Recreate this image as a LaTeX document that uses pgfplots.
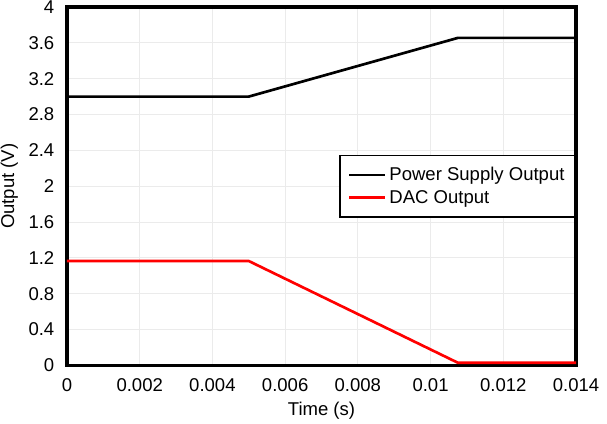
\documentclass[border=0pt]{standalone}
\usepackage{fontspec}
\setmainfont{Liberation Sans}
\usepackage{pgfplots}
\pgfplotsset{compat=1.18}

\begin{document}
\begin{tikzpicture}[x=1pt,y=1pt]
\begin{axis}[
    scale only axis,
    width=382pt,
    height=269pt,
    xmin=0, xmax=0.014,
    ymin=0, ymax=4,
    xtick={0,0.002,0.004,0.006,0.008,0.01,0.012,0.014},
    xticklabels={0,0.002,0.004,0.006,0.008,0.01,0.012,0.014},
    ytick={0,0.4,0.8,1.2,1.6,2,2.4,2.8,3.2,3.6,4},
    yticklabels={0,0.4,0.8,1.2,1.6,2,2.4,2.8,3.2,3.6,4},
    scaled x ticks=false,
    major tick length=0pt,
    grid=major,
    major grid style={draw=black!8, line width=0.6pt},
    axis line style={line width=2.5pt},
    tick label style={font=\fontsize{13.9}{16}\selectfont},
    label style={font=\fontsize{13.9}{16}\selectfont},
    xticklabel style={yshift=-6pt},
    yticklabel style={xshift=-6pt},
    xlabel={Time (s)},
    ylabel={Output (V)},
    xlabel style={yshift=-1pt},
    ylabel style={yshift=1pt},
    legend style={
        at={(1,0.5)}, anchor=east,
        draw=black, line width=1.3pt, fill=white,
        font=\fontsize{13.9}{16}\selectfont,
        inner xsep=6pt, inner ysep=7pt,
        row sep=1.5pt,
        legend cell align=left
    },
    legend image code/.code={\draw[#1, line width=2pt] (0pt,0pt) -- (27pt,0pt);},
]
\coordinate (bl) at (axis description cs:-0.1316,-0.1616);
\coordinate (tr) at (axis description cs:1.0609,1.0195);

% Power Supply Output
\addplot[black, line width=2pt] coordinates {
    (0,3.0) (0.005,3.0) (0.01075,3.655) (0.014,3.655)
};

% DAC Output
\addplot[red, line width=2pt] coordinates {
    (0,1.165) (0.005,1.165) (0.01075,0.03) (0.014,0.03)
};

\legend{Power Supply Output, DAC Output}
\end{axis}
\pgfresetboundingbox
\path (bl) rectangle (tr);
\end{tikzpicture}
\end{document}
